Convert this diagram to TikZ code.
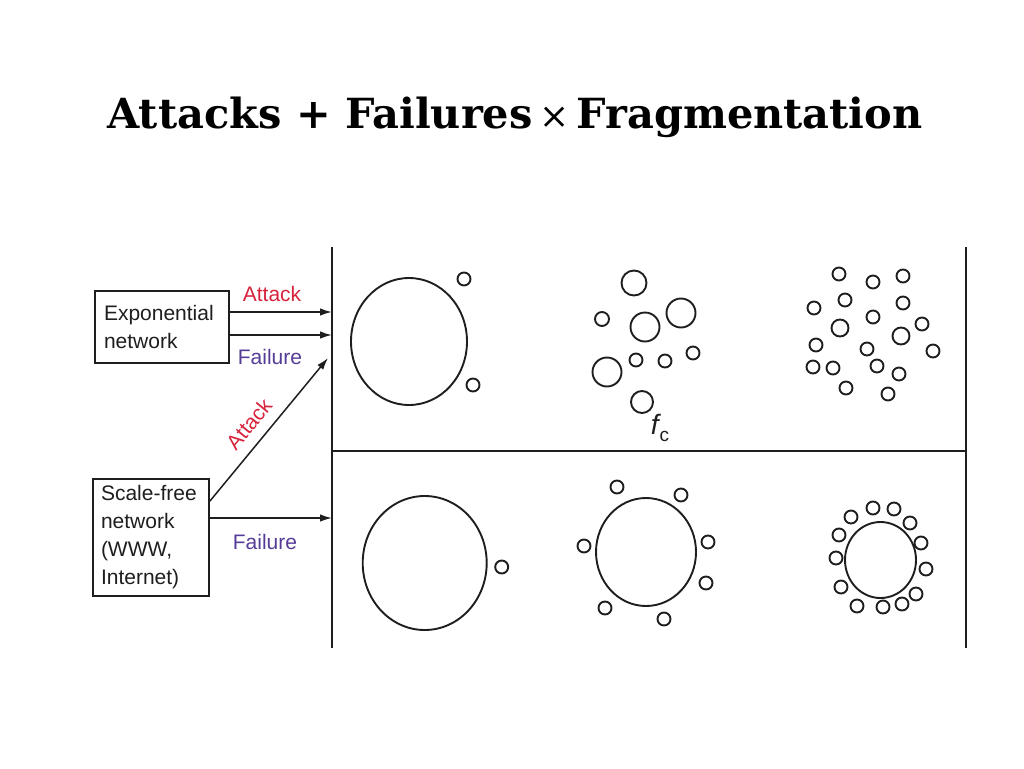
\documentclass[tikz,border=0pt]{standalone}
\usepackage{fontspec}
\setmainfont{Liberation Sans}
\newfontfamily\titlefont{DejaVu Serif}
\usetikzlibrary{arrows.meta,calc}
\definecolor{atk}{RGB}{215,35,60}
\definecolor{fail}{RGB}{85,60,150}
\definecolor{ink}{RGB}{30,30,30}
\begin{document}
\begin{tikzpicture}[x=1pt,y=-1pt,
  frame/.style={line width=1.6pt,draw=ink},
  netbox/.style={draw=ink,line width=1.6pt,align=left,inner ysep=0pt,text=ink,font=\fontsize{21}{28}\selectfont},
  lbl/.style={font=\fontsize{21}{25}\selectfont,inner sep=0pt},
  arr/.style={line width=1.5pt,draw=ink,-{Latex[length=12pt,width=7.5pt]}},
  blob/.style={line width=1.9pt,draw=ink},
  sm/.style={blob,circle,minimum size=13pt,inner sep=0pt},
  md/.style={blob,circle,inner sep=0pt},
]
\useasboundingbox (0,0) rectangle (1024,768);
% title
\node[font=\titlefont\bfseries\fontsize{41.5}{50}\selectfont,anchor=base] (title) at (515,128) {Attacks + Failures\,{\mdseries\fontsize{36}{40}\selectfont ×}\,Fragmentation};
% frame
\coordinate (tl) at (332,247); \coordinate (bl) at (332,648);
\coordinate (tr) at (966,247); \coordinate (br) at (966,648);
\coordinate (ml) at (332,451); \coordinate (mr) at (966,451);
\draw[frame] (tl) -- (bl);
\draw[frame] (tr) -- (br);
\draw[frame] (ml) -- (mr);
% boxes
\node[netbox,text width=116pt,inner xsep=9pt,minimum height=72pt] (exp) at (162,327) {Exponential\\network};
\node[netbox,text width=100pt,inner xsep=8pt,minimum height=117pt] (sf) at (151,537.5) {Scale-free\\network\\(WWW,\\Internet)};
% arrow end points on the frame
\coordinate (ea) at (332,312);
\coordinate (ef) at (332,335);
\coordinate (sa) at (328,358);
\coordinate (sff) at (332,518);
\draw[arr] (exp.east |- ea) -- (ea);
\draw[arr] (exp.east |- ef) -- (ef);
\draw[arr] ($(sf.north east)+(0,23)$) -- (sa);
\draw[arr] (sf.east |- sff) -- (sff);
\node[lbl,text=atk] (la1) at (272,294) {Attack};
\node[lbl,text=fail] (lf1) at (270,357) {Failure};
\node[lbl,text=fail] (lf2) at (265,542) {Failure};
\node[lbl,text=atk,rotate=50.5] (la2) at (249,424) {Attack};
% top-left: exponential, few removed
\draw[blob] (409,341.5) ellipse [x radius=58, y radius=63.5];
\node[sm] (a1) at (464,279) {};
\node[sm] (a2) at (473,385) {};
% top-middle: fragmented at f_c
\node[md,minimum size=25pt] (b1) at (634,283) {};
\node[sm,minimum size=14pt] (b2) at (602,319) {};
\node[md,minimum size=29pt] (b3) at (645,327) {};
\node[md,minimum size=29pt] (b4) at (681,313) {};
\node[md,minimum size=29pt] (b5) at (607,372) {};
\node[sm] (b6) at (636,360) {};
\node[sm] (b7) at (665,361) {};
\node[sm] (b8) at (693,353) {};
\node[md,minimum size=22pt] (b9) at (642,402) {};
\node[inner sep=0pt,text=ink] (fc) at (660,428) {\fontsize{28}{30}\selectfont\itshape f\kern1pt\raisebox{-7pt}{\upshape\fontsize{19}{20}\selectfont c}};
% top-right: fully fragmented
\foreach \x/\y [count=\i] in {839/274,873/282,903/276,814/308,845/300,903/303,873/317,922/324,816/345,867/349,933/351,813/367,833/368,877/366,899/374,846/388,888/394}
  \node[sm] (c\i) at (\x,\y) {};
\node[md,minimum size=17pt] (c18) at (840,328) {};
\node[md,minimum size=17pt] (c19) at (901,336) {};
% bottom-left: scale-free, failure
\draw[blob] (424.7,563) ellipse [x radius=62, y radius=67];
\node[sm] (d1) at (501.7,567) {};
% bottom-middle
\draw[blob] (646,552) ellipse [x radius=50, y radius=54];
\foreach \x/\y [count=\i] in {617/487,681/495,584/546,708/542,706/583,605/608,664/619}
  \node[sm] (e\i) at (\x,\y) {};
% bottom-right
\draw[blob] (880.5,560) ellipse [x radius=35.5, y radius=38];
\foreach \x/\y [count=\i] in {873/508,894/509,851/517,910/523,839/535,921/543,836/558,926/569,841/587,916/594,857/606,883/607,902/604}
  \node[sm] (g\i) at (\x,\y) {};
\end{tikzpicture}
\end{document}
